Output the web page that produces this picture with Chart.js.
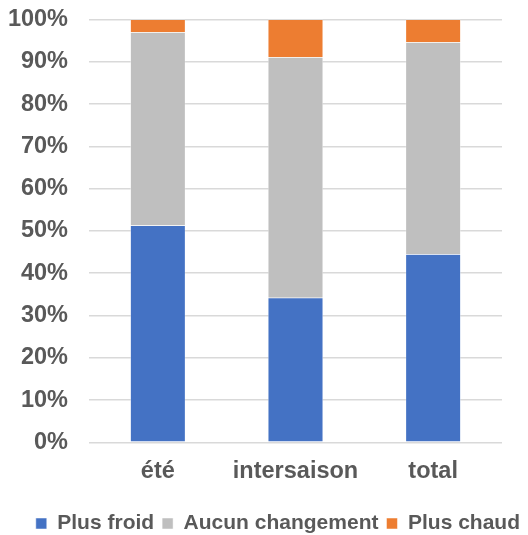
<!DOCTYPE html>
<html>
<head>
<meta charset="utf-8">
<script src="https://cdn.jsdelivr.net/npm/chart.js@4"></script>
<style>
  html, body { margin: 0; padding: 0; background: #fff; }
  #wrap { width: 528px; height: 535px; }
</style>
</head>
<body>
<div id="wrap"><canvas id="chart"></canvas></div>
<script>
// Chart data
const categories = ['été', 'intersaison', 'total'];
const plusFroid = [51.3, 34.2, 44.5];
const aucunChangement = [45.7, 56.9, 50.1];
const plusChaud = [3.0, 8.9, 5.4];
const yTicks = [0, 10, 20, 30, 40, 50, 60, 70, 80, 90, 100];

const textColor = '#595959';
const font = { family: "'Liberation Sans', Arial, sans-serif", weight: 'bold' };

const ctx = document.getElementById('chart').getContext('2d');

new Chart(ctx, {
    type: 'bar',
    data: {
        labels: categories,
        datasets: [
            {
                label: 'Plus froid',
                data: plusFroid,
                backgroundColor: '#4472c4',
                borderColor: '#ffffff',
                borderWidth: 0.5
            },
            {
                label: 'Aucun changement',
                data: aucunChangement,
                backgroundColor: '#bfbfbf',
                borderColor: '#ffffff',
                borderWidth: 0.5
            },
            {
                label: 'Plus chaud',
                data: plusChaud,
                backgroundColor: '#ed7d31',
                borderColor: '#ffffff',
                borderWidth: 0.5
            }
        ]
    },
    options: {
        responsive: true,
        maintainAspectRatio: false,
        animation: false,
        categoryPercentage: 0.4,
        barPercentage: 1.0,
        layout: { padding: { left: 0, right: 0, top: 0, bottom: -9 } },
        plugins: {
            legend: {
                position: 'bottom',
                align: 'end',
                labels: {
                    color: textColor,
                    font: { ...font, size: 21 },
                    boxWidth: 11,
                    boxHeight: 11,
                    padding: 8
                }
            },
            tooltip: { enabled: false }
        },
        scales: {
            x: {
                stacked: true,
                grid: { display: false, drawTicks: false },
                border: { display: false },
                ticks: {
                    color: textColor,
                    font: { ...font, size: 23.5 },
                    padding: 15
                },
                afterFit: (axis) => { axis.height += 4.5; }
            },
            y: {
                stacked: true,
                min: 0,
                max: 100,
                afterBuildTicks: (axis) => {
                    axis.ticks = yTicks.map(v => ({ value: v }));
                },
                afterFit: (axis) => {
                    axis.width = 89;
                    // tick padding is horizontal only; keep the top tight
                    axis.paddingTop = 19.5;
                    axis.paddingBottom = 14;
                },
                grid: { color: '#d9d9d9', lineWidth: 1.5, drawTicks: false },
                border: { display: false },
                ticks: {
                    color: textColor,
                    font: { ...font, size: 23.5 },
                    padding: 21,
                    callback: (v) => v + '%'
                }
            },
            // empty right-side spacer so the plot stops short of the right edge
            spacer: {
                type: 'linear',
                position: 'right',
                display: true,
                grid: { display: false, drawTicks: false },
                border: { display: false },
                ticks: { display: false },
                afterFit: (axis) => { axis.width = 26; }
            }
        }
    }
});
</script>
</body>
</html>
